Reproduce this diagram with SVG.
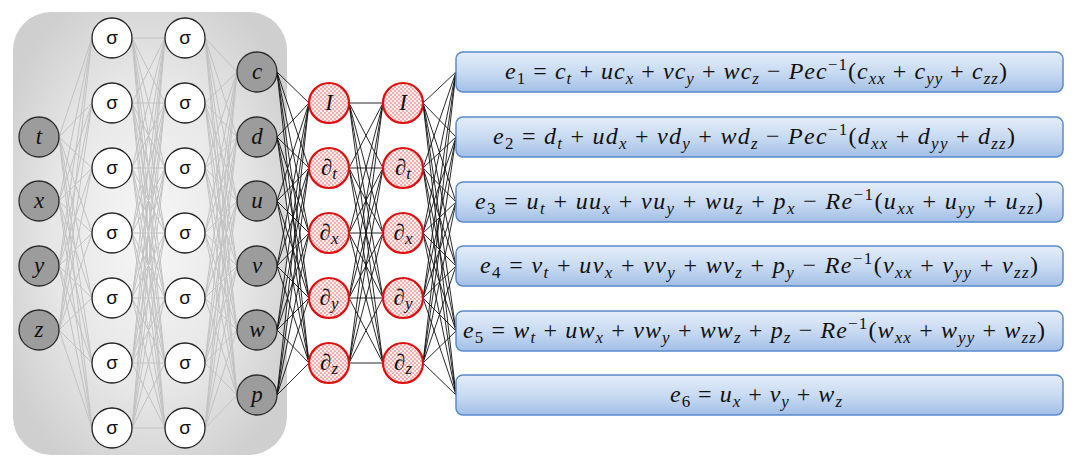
<svg xmlns="http://www.w3.org/2000/svg" width="1080" height="468" viewBox="0 0 1080 468">
<defs>
<radialGradient id="panelGrad" cx="0.5" cy="0.5" r="0.6">
<stop offset="0" stop-color="#f7f7f7"/>
<stop offset="0.6" stop-color="#e6e6e6"/>
<stop offset="1" stop-color="#cfcfcf"/>
</radialGradient>
<linearGradient id="boxGrad" x1="0" y1="0" x2="0" y2="1">
<stop offset="0" stop-color="#e4edf9"/>
<stop offset="0.5" stop-color="#c9dbf2"/>
<stop offset="1" stop-color="#a3bfe6"/>
</linearGradient>
<pattern id="dots" width="4" height="4" patternUnits="userSpaceOnUse">
<rect width="4" height="4" fill="#fdeeee"/>
<circle cx="1" cy="1" r="0.7" fill="#e04040"/>
<circle cx="3" cy="3" r="0.7" fill="#e04040"/>
</pattern>
<style>
.grey{fill:none;stroke:#c2c2c2;stroke-width:1}
.blk{fill:none;stroke:#111;stroke-width:0.9}
.io{fill:#9c9c9c;stroke:#2a2a2a;stroke-width:1.3}
.sig{fill:#fff;stroke:#222;stroke-width:1.3}
.red{fill:url(#dots);stroke:#e01010;stroke-width:2.2}
.box{fill:url(#boxGrad);stroke:#5a8bcb;stroke-width:1.5}
.lbl{font-family:"Liberation Serif",serif;font-style:italic;font-size:23px;fill:#111;text-anchor:middle}
.sl{font-family:"Liberation Sans",sans-serif;font-size:19px;fill:#111;text-anchor:middle}
.eq{font-family:"Liberation Serif",serif;font-size:24px;fill:#111;text-anchor:middle;white-space:pre}
.i{font-style:italic}
.s{font-size:17px}
</style>
</defs>
<rect x="13" y="12" width="274" height="443" rx="38" fill="url(#panelGrad)"/>
<g id="connectors">
<path class="grey" d="M59 137L92 38M59 137L92 103M59 137L92 168M59 137L92 233M59 137L92 298M59 137L92 363M59 137L92 428M59 201L92 38M59 201L92 103M59 201L92 168M59 201L92 233M59 201L92 298M59 201L92 363M59 201L92 428M59 266L92 38M59 266L92 103M59 266L92 168M59 266L92 233M59 266L92 298M59 266L92 363M59 266L92 428M59 330L92 38M59 330L92 103M59 330L92 168M59 330L92 233M59 330L92 298M59 330L92 363M59 330L92 428"/>
<path class="grey" d="M132 38L165 38M132 38L165 103M132 38L165 168M132 38L165 233M132 38L165 298M132 38L165 363M132 38L165 428M132 103L165 38M132 103L165 103M132 103L165 168M132 103L165 233M132 103L165 298M132 103L165 363M132 103L165 428M132 168L165 38M132 168L165 103M132 168L165 168M132 168L165 233M132 168L165 298M132 168L165 363M132 168L165 428M132 233L165 38M132 233L165 103M132 233L165 168M132 233L165 233M132 233L165 298M132 233L165 363M132 233L165 428M132 298L165 38M132 298L165 103M132 298L165 168M132 298L165 233M132 298L165 298M132 298L165 363M132 298L165 428M132 363L165 38M132 363L165 103M132 363L165 168M132 363L165 233M132 363L165 298M132 363L165 363M132 363L165 428M132 428L165 38M132 428L165 103M132 428L165 168M132 428L165 233M132 428L165 298M132 428L165 363M132 428L165 428"/>
<path class="grey" d="M205 38L237 72M205 38L237 137M205 38L237 201M205 38L237 266M205 38L237 330M205 38L237 395M205 103L237 72M205 103L237 137M205 103L237 201M205 103L237 266M205 103L237 330M205 103L237 395M205 168L237 72M205 168L237 137M205 168L237 201M205 168L237 266M205 168L237 330M205 168L237 395M205 233L237 72M205 233L237 137M205 233L237 201M205 233L237 266M205 233L237 330M205 233L237 395M205 298L237 72M205 298L237 137M205 298L237 201M205 298L237 266M205 298L237 330M205 298L237 395M205 363L237 72M205 363L237 137M205 363L237 201M205 363L237 266M205 363L237 330M205 363L237 395M205 428L237 72M205 428L237 137M205 428L237 201M205 428L237 266M205 428L237 330M205 428L237 395"/>
<path class="blk" d="M277 72L309 103M277 72L309 168M277 72L309 233M277 72L309 298M277 72L309 363M277 137L309 103M277 137L309 168M277 137L309 233M277 137L309 298M277 137L309 363M277 201L309 103M277 201L309 168M277 201L309 233M277 201L309 298M277 201L309 363M277 266L309 103M277 266L309 168M277 266L309 233M277 266L309 298M277 266L309 363M277 330L309 103M277 330L309 168M277 330L309 233M277 330L309 298M277 330L309 363M277 395L309 103M277 395L309 168M277 395L309 233M277 395L309 298M277 395L309 363"/>
<path class="blk" d="M349 103L383 103M349 103L383 168M349 103L383 233M349 103L383 298M349 103L383 363M349 168L383 103M349 168L383 168M349 168L383 233M349 168L383 298M349 168L383 363M349 233L383 103M349 233L383 168M349 233L383 233M349 233L383 298M349 233L383 363M349 298L383 103M349 298L383 168M349 298L383 233M349 298L383 298M349 298L383 363M349 363L383 103M349 363L383 168M349 363L383 233M349 363L383 298M349 363L383 363"/>
<path class="blk" d="M423 103L456 72M423 103L456 137M423 103L456 202M423 103L456 266M423 103L456 331M423 103L456 395M423 168L456 72M423 168L456 137M423 168L456 202M423 168L456 266M423 168L456 331M423 168L456 395M423 233L456 72M423 233L456 137M423 233L456 202M423 233L456 266M423 233L456 331M423 233L456 395M423 298L456 72M423 298L456 137M423 298L456 202M423 298L456 266M423 298L456 331M423 298L456 395M423 363L456 72M423 363L456 137M423 363L456 202M423 363L456 266M423 363L456 331M423 363L456 395"/>
</g>
<g id="in-t"><circle class="io" cx="39" cy="137" r="20"/><text class="lbl" x="39" y="144">t</text></g>
<g id="in-x"><circle class="io" cx="39" cy="201" r="20"/><text class="lbl" x="39" y="208">x</text></g>
<g id="in-y"><circle class="io" cx="39" cy="266" r="20"/><text class="lbl" x="39" y="273">y</text></g>
<g id="in-z"><circle class="io" cx="39" cy="330" r="20"/><text class="lbl" x="39" y="337">z</text></g>
<g id="h1-1"><circle class="sig" cx="112" cy="38" r="20"/><text class="sl" x="112" y="44">σ</text></g>
<g id="h1-2"><circle class="sig" cx="112" cy="103" r="20"/><text class="sl" x="112" y="109">σ</text></g>
<g id="h1-3"><circle class="sig" cx="112" cy="168" r="20"/><text class="sl" x="112" y="174">σ</text></g>
<g id="h1-4"><circle class="sig" cx="112" cy="233" r="20"/><text class="sl" x="112" y="239">σ</text></g>
<g id="h1-5"><circle class="sig" cx="112" cy="298" r="20"/><text class="sl" x="112" y="304">σ</text></g>
<g id="h1-6"><circle class="sig" cx="112" cy="363" r="20"/><text class="sl" x="112" y="369">σ</text></g>
<g id="h1-7"><circle class="sig" cx="112" cy="428" r="20"/><text class="sl" x="112" y="434">σ</text></g>
<g id="h2-1"><circle class="sig" cx="185" cy="38" r="20"/><text class="sl" x="185" y="44">σ</text></g>
<g id="h2-2"><circle class="sig" cx="185" cy="103" r="20"/><text class="sl" x="185" y="109">σ</text></g>
<g id="h2-3"><circle class="sig" cx="185" cy="168" r="20"/><text class="sl" x="185" y="174">σ</text></g>
<g id="h2-4"><circle class="sig" cx="185" cy="233" r="20"/><text class="sl" x="185" y="239">σ</text></g>
<g id="h2-5"><circle class="sig" cx="185" cy="298" r="20"/><text class="sl" x="185" y="304">σ</text></g>
<g id="h2-6"><circle class="sig" cx="185" cy="363" r="20"/><text class="sl" x="185" y="369">σ</text></g>
<g id="h2-7"><circle class="sig" cx="185" cy="428" r="20"/><text class="sl" x="185" y="434">σ</text></g>
<g id="out-c"><circle class="io" cx="257" cy="72" r="20"/><text class="lbl" x="257" y="79">c</text></g>
<g id="out-d"><circle class="io" cx="257" cy="137" r="20"/><text class="lbl" x="257" y="144">d</text></g>
<g id="out-u"><circle class="io" cx="257" cy="201" r="20"/><text class="lbl" x="257" y="208">u</text></g>
<g id="out-v"><circle class="io" cx="257" cy="266" r="20"/><text class="lbl" x="257" y="273">v</text></g>
<g id="out-w"><circle class="io" cx="257" cy="330" r="20"/><text class="lbl" x="257" y="337">w</text></g>
<g id="out-p"><circle class="io" cx="257" cy="395" r="20"/><text class="lbl" x="257" y="402">p</text></g>
<g id="d1-I"><circle class="red" cx="329" cy="103" r="20"/><text class="lbl" x="329" y="110">I</text></g>
<g id="d1-t"><circle class="red" cx="329" cy="168" r="20"/><text class="lbl" x="329" y="175">∂<tspan class="s" dy="4">t</tspan></text></g>
<g id="d1-x"><circle class="red" cx="329" cy="233" r="20"/><text class="lbl" x="329" y="240">∂<tspan class="s" dy="4">x</tspan></text></g>
<g id="d1-y"><circle class="red" cx="329" cy="298" r="20"/><text class="lbl" x="329" y="305">∂<tspan class="s" dy="4">y</tspan></text></g>
<g id="d1-z"><circle class="red" cx="329" cy="363" r="20"/><text class="lbl" x="329" y="370">∂<tspan class="s" dy="4">z</tspan></text></g>
<g id="d2-I"><circle class="red" cx="403" cy="103" r="20"/><text class="lbl" x="403" y="110">I</text></g>
<g id="d2-t"><circle class="red" cx="403" cy="168" r="20"/><text class="lbl" x="403" y="175">∂<tspan class="s" dy="4">t</tspan></text></g>
<g id="d2-x"><circle class="red" cx="403" cy="233" r="20"/><text class="lbl" x="403" y="240">∂<tspan class="s" dy="4">x</tspan></text></g>
<g id="d2-y"><circle class="red" cx="403" cy="298" r="20"/><text class="lbl" x="403" y="305">∂<tspan class="s" dy="4">y</tspan></text></g>
<g id="d2-z"><circle class="red" cx="403" cy="363" r="20"/><text class="lbl" x="403" y="370">∂<tspan class="s" dy="4">z</tspan></text></g>
<g id="eq1"><rect class="box" x="456" y="52" width="607" height="40" rx="7"/><text class="eq" x="756" y="79" textLength="502" lengthAdjust="spacing"><tspan class="i">e</tspan><tspan class="s" dy="5">1</tspan><tspan dy="-5"> = </tspan><tspan class="i">c</tspan><tspan class="s i" dy="5">t</tspan><tspan dy="-5"> + </tspan><tspan class="i">uc</tspan><tspan class="s i" dy="5">x</tspan><tspan dy="-5"> + </tspan><tspan class="i">vc</tspan><tspan class="s i" dy="5">y</tspan><tspan dy="-5"> + </tspan><tspan class="i">wc</tspan><tspan class="s i" dy="5">z</tspan><tspan dy="-5"> − </tspan><tspan class="i">Pec</tspan><tspan class="s" dy="-9">−1</tspan><tspan dy="9">(</tspan><tspan class="i">c</tspan><tspan class="s i" dy="5">xx</tspan><tspan dy="-5"> + </tspan><tspan class="i">c</tspan><tspan class="s i" dy="5">yy</tspan><tspan dy="-5"> + </tspan><tspan class="i">c</tspan><tspan class="s i" dy="5">zz</tspan><tspan dy="-5">)</tspan></text></g>
<g id="eq2"><rect class="box" x="456" y="117" width="607" height="40" rx="7"/><text class="eq" x="754" y="144" textLength="522" lengthAdjust="spacing"><tspan class="i">e</tspan><tspan class="s" dy="5">2</tspan><tspan dy="-5"> = </tspan><tspan class="i">d</tspan><tspan class="s i" dy="5">t</tspan><tspan dy="-5"> + </tspan><tspan class="i">ud</tspan><tspan class="s i" dy="5">x</tspan><tspan dy="-5"> + </tspan><tspan class="i">vd</tspan><tspan class="s i" dy="5">y</tspan><tspan dy="-5"> + </tspan><tspan class="i">wd</tspan><tspan class="s i" dy="5">z</tspan><tspan dy="-5"> − </tspan><tspan class="i">Pec</tspan><tspan class="s" dy="-9">−1</tspan><tspan dy="9">(</tspan><tspan class="i">d</tspan><tspan class="s i" dy="5">xx</tspan><tspan dy="-5"> + </tspan><tspan class="i">d</tspan><tspan class="s i" dy="5">yy</tspan><tspan dy="-5"> + </tspan><tspan class="i">d</tspan><tspan class="s i" dy="5">zz</tspan><tspan dy="-5">)</tspan></text></g>
<g id="eq3"><rect class="box" x="456" y="182" width="607" height="40" rx="7"/><text class="eq" x="759" y="209" textLength="568" lengthAdjust="spacing"><tspan class="i">e</tspan><tspan class="s" dy="5">3</tspan><tspan dy="-5"> = </tspan><tspan class="i">u</tspan><tspan class="s i" dy="5">t</tspan><tspan dy="-5"> + </tspan><tspan class="i">uu</tspan><tspan class="s i" dy="5">x</tspan><tspan dy="-5"> + </tspan><tspan class="i">vu</tspan><tspan class="s i" dy="5">y</tspan><tspan dy="-5"> + </tspan><tspan class="i">wu</tspan><tspan class="s i" dy="5">z</tspan><tspan dy="-5"> + </tspan><tspan class="i">p</tspan><tspan class="s i" dy="5">x</tspan><tspan dy="-5"> − </tspan><tspan class="i">Re</tspan><tspan class="s" dy="-9">−1</tspan><tspan dy="9">(</tspan><tspan class="i">u</tspan><tspan class="s i" dy="5">xx</tspan><tspan dy="-5"> + </tspan><tspan class="i">u</tspan><tspan class="s i" dy="5">yy</tspan><tspan dy="-5"> + </tspan><tspan class="i">u</tspan><tspan class="s i" dy="5">zz</tspan><tspan dy="-5">)</tspan></text></g>
<g id="eq4"><rect class="box" x="456" y="246" width="607" height="40" rx="7"/><text class="eq" x="759" y="273" textLength="558" lengthAdjust="spacing"><tspan class="i">e</tspan><tspan class="s" dy="5">4</tspan><tspan dy="-5"> = </tspan><tspan class="i">v</tspan><tspan class="s i" dy="5">t</tspan><tspan dy="-5"> + </tspan><tspan class="i">uv</tspan><tspan class="s i" dy="5">x</tspan><tspan dy="-5"> + </tspan><tspan class="i">vv</tspan><tspan class="s i" dy="5">y</tspan><tspan dy="-5"> + </tspan><tspan class="i">wv</tspan><tspan class="s i" dy="5">z</tspan><tspan dy="-5"> + </tspan><tspan class="i">p</tspan><tspan class="s i" dy="5">y</tspan><tspan dy="-5"> − </tspan><tspan class="i">Re</tspan><tspan class="s" dy="-9">−1</tspan><tspan dy="9">(</tspan><tspan class="i">v</tspan><tspan class="s i" dy="5">xx</tspan><tspan dy="-5"> + </tspan><tspan class="i">v</tspan><tspan class="s i" dy="5">yy</tspan><tspan dy="-5"> + </tspan><tspan class="i">v</tspan><tspan class="s i" dy="5">zz</tspan><tspan dy="-5">)</tspan></text></g>
<g id="eq5"><rect class="box" x="456" y="311" width="607" height="40" rx="7"/><text class="eq" x="754" y="338" textLength="582" lengthAdjust="spacing"><tspan class="i">e</tspan><tspan class="s" dy="5">5</tspan><tspan dy="-5"> = </tspan><tspan class="i">w</tspan><tspan class="s i" dy="5">t</tspan><tspan dy="-5"> + </tspan><tspan class="i">uw</tspan><tspan class="s i" dy="5">x</tspan><tspan dy="-5"> + </tspan><tspan class="i">vw</tspan><tspan class="s i" dy="5">y</tspan><tspan dy="-5"> + </tspan><tspan class="i">ww</tspan><tspan class="s i" dy="5">z</tspan><tspan dy="-5"> + </tspan><tspan class="i">p</tspan><tspan class="s i" dy="5">z</tspan><tspan dy="-5"> − </tspan><tspan class="i">Re</tspan><tspan class="s" dy="-9">−1</tspan><tspan dy="9">(</tspan><tspan class="i">w</tspan><tspan class="s i" dy="5">xx</tspan><tspan dy="-5"> + </tspan><tspan class="i">w</tspan><tspan class="s i" dy="5">yy</tspan><tspan dy="-5"> + </tspan><tspan class="i">w</tspan><tspan class="s i" dy="5">zz</tspan><tspan dy="-5">)</tspan></text></g>
<g id="eq6"><rect class="box" x="456" y="375" width="607" height="40" rx="7"/><text class="eq" x="756" y="402" textLength="172" lengthAdjust="spacing"><tspan class="i">e</tspan><tspan class="s" dy="5">6</tspan><tspan dy="-5"> = </tspan><tspan class="i">u</tspan><tspan class="s i" dy="5">x</tspan><tspan dy="-5"> + </tspan><tspan class="i">v</tspan><tspan class="s i" dy="5">y</tspan><tspan dy="-5"> + </tspan><tspan class="i">w</tspan><tspan class="s i" dy="5">z</tspan></text></g>
</svg>
